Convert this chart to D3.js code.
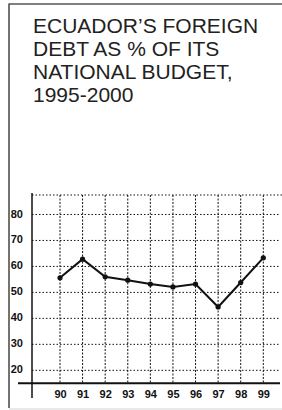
<!DOCTYPE html>
<html>
<head>
<meta charset="utf-8">
<script src="https://cdn.jsdelivr.net/npm/d3@7"></script>
<style>
  html, body { margin: 0; padding: 0; background: #fff; }
  .visual { width: 282px; height: 410px; position: relative; overflow: hidden; }
</style>
</head>
<body>
<div class="visual"></div>
<script>

const titleLines = ["ECUADOR\u2019S FOREIGN", "DEBT AS % OF ITS", "NATIONAL BUDGET,", "1995-2000"];

const years = [90, 91, 92, 93, 94, 95, 96, 97, 98, 99];
const debtPct = [55.6, 62.8, 56.0, 54.7, 53.2, 52.1, 53.2, 44.4, 53.8, 63.3];

const yTicks = [20, 30, 40, 50, 60, 70, 80];
const yTop = 87.5;
const yBottom = 15;

function display() {

    const width = 282;
    const height = 410;

    const svg = d3.select(".visual")
        .append("svg")
        .attr("width", width)
        .attr("height", height);

    // frame: left + top dark, bottom light
    svg.append("line")
        .attr("x1", 9).attr("x2", 9)
        .attr("y1", 3.5).attr("y2", 408)
        .attr("stroke", "#444")
        .attr("stroke-width", 1.5);
    svg.append("line")
        .attr("x1", 9).attr("x2", width)
        .attr("y1", 4).attr("y2", 4)
        .attr("stroke", "#555")
        .attr("stroke-width", 1.5);
    svg.append("line")
        .attr("x1", 9).attr("x2", width)
        .attr("y1", 409).attr("y2", 409)
        .attr("stroke", "#d4d4d4")
        .attr("stroke-width", 1);

    svg.selectAll("text.title")
        .data(titleLines)
        .enter()
        .append("text")
        .attr("class", "title")
        .attr("x", 33)
        .attr("y", (d, i) => 33 + i * 23)
        .style("font-family", "'Liberation Sans', Arial, sans-serif")
        .style("font-size", "21px")
        .style("fill", "#222")
        .text(d => d);

    const x = d3.scaleLinear().domain([90, 99]).range([60, 263.3]);
    const y = d3.scaleLinear().domain([yBottom, yTop]).range([383.3, 195]);

    const left = 32;
    const right = 280;

    // horizontal dotted grid
    const hLines = yTicks.concat([yTop]);
    svg.selectAll("line.hgrid")
        .data(hLines)
        .enter()
        .append("line")
        .attr("class", "hgrid")
        .attr("x1", left)
        .attr("x2", d => d === yTop ? 282 : right)
        .attr("y1", d => y(d))
        .attr("y2", d => y(d))
        .attr("stroke", "#111")
        .attr("stroke-width", 1)
        .attr("stroke-dasharray", "1.5,2");

    // vertical dotted grid
    svg.selectAll("line.vgrid")
        .data(years)
        .enter()
        .append("line")
        .attr("class", "vgrid")
        .attr("x1", d => x(d))
        .attr("x2", d => x(d))
        .attr("y1", y(yTop))
        .attr("y2", y(yBottom))
        .attr("stroke", "#111")
        .attr("stroke-width", 1)
        .attr("stroke-dasharray", "2,1.5");

    // axes
    const yAxis = d3.axisLeft(y)
        .tickValues(yTicks)
        .tickSize(0)
        .tickPadding(9);

    const yg = svg.append("g")
        .attr("transform", `translate(${left},-1)`)
        .call(yAxis);
    yg.select(".domain").remove();

    const xAxis = d3.axisBottom(x)
        .tickValues(years)
        .tickSize(0)
        .tickPadding(7);

    const xg = svg.append("g")
        .attr("transform", `translate(0,${y(yBottom)})`)
        .call(xAxis);
    xg.select(".domain").remove();

    svg.selectAll(".tick text")
        .style("font-family", "'Liberation Sans Narrow', 'Arial Narrow', 'Liberation Sans', sans-serif")
        .style("font-weight", "bold")
        .style("font-size", "11px")
        .style("fill", "#111");

    svg.append("line")
        .attr("x1", 18).attr("x2", right)
        .attr("y1", y(yBottom)).attr("y2", y(yBottom))
        .attr("stroke", "#111")
        .attr("stroke-width", 2);

    svg.append("line")
        .attr("x1", left).attr("x2", left)
        .attr("y1", 193).attr("y2", 398)
        .attr("stroke", "#111")
        .attr("stroke-width", 1.5);

    // data line
    const line = d3.line()
        .x((d, i) => x(years[i]))
        .y(d => y(d));

    svg.append("path")
        .datum(debtPct)
        .attr("d", line)
        .attr("fill", "none")
        .attr("stroke", "#111")
        .attr("stroke-width", 2);

    svg.selectAll("circle")
        .data(debtPct)
        .enter()
        .append("circle")
        .attr("cx", (d, i) => x(years[i]))
        .attr("cy", d => y(d))
        .attr("r", 2.6)
        .attr("fill", "#111");
}

window.onload = function() {
    display();
};
</script>
</body>
</html>
